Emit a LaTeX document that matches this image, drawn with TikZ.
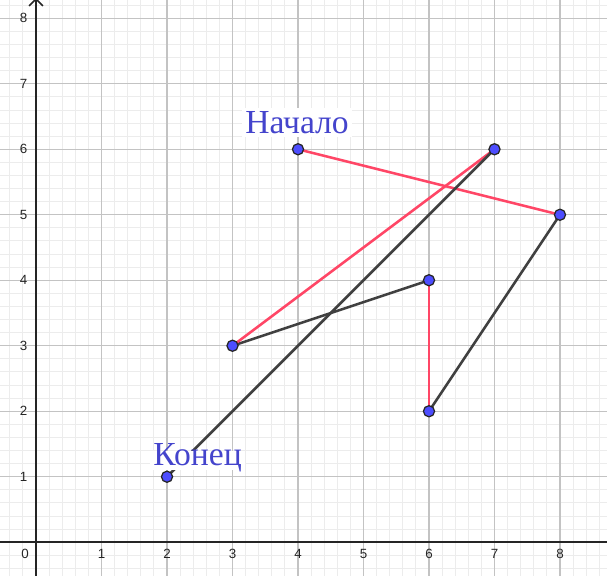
\documentclass[tikz,border=0pt]{standalone}
\usepackage{fontspec}
\setmainfont{Liberation Serif}
\newfontfamily\ticksfont{Liberation Sans}
\usetikzlibrary{arrows.meta}
\definecolor{minorgrid}{RGB}{236,236,236}
\definecolor{majorgrid}{RGB}{195,195,195}
\definecolor{axiscol}{RGB}{37,37,37}
\definecolor{redseg}{RGB}{255,70,102}
\definecolor{darkseg}{RGB}{64,64,64}
\definecolor{ptfill}{RGB}{77,77,255}
\definecolor{labcol}{RGB}{68,68,204}
\begin{document}
\begin{tikzpicture}[
  xtick/.style={font=\ticksfont\fontsize{5.8}{6}\selectfont, text=axiscol, inner sep=0pt, anchor=center},
  ytick/.style={font=\ticksfont\fontsize{5.8}{6}\selectfont, text=axiscol, inner sep=0pt, anchor=east},
  lab/.style={font=\fontsize{14.6}{16}\selectfont, text=labcol, fill=white, inner sep=1.3pt, anchor=base},
  pt/.style={circle, fill=ptfill, draw=black!85, line width=0.55pt, minimum size=0.17cm, inner sep=0pt},
  redline/.style={draw=redseg, line width=1.1pt},
  darkline/.style={draw=darkseg, line width=1.1pt}
]
\useasboundingbox (-0.55,-0.515) rectangle (8.718,8.279);
\clip (-0.55,-0.515) rectangle (8.718,8.279);
% grid
\draw[minorgrid, line width=0.4pt, step=0.2] (-0.6,-0.6) grid (8.8,8.4);
\draw[majorgrid, line width=0.45pt, step=1] (-1,-1) grid (9,9);
% axes
\draw[axiscol, line width=0.65pt] (-0.6,0) -- (8.8,0);
\draw[axiscol, line width=0.65pt, -{Straight Barb[length=3pt,width=6pt]}] (0,-0.6) -- (0,8.31);
% tick labels
\node[xtick] (x0) at (-0.168,-0.175) {0};
\foreach \i in {1,...,8} {
  \node[xtick] (xt\i) at (\i,-0.175) {\i};
  \node[ytick] (yt\i) at (-0.125,\i) {\i};
}
% points
\coordinate (a) at (4,6);
\coordinate (b) at (8,5);
\coordinate (c) at (6,2);
\coordinate (d) at (6,4);
\coordinate (e) at (3,3);
\coordinate (f) at (7,6);
\coordinate (g) at (2,1);
% segments
\draw[redline] (a) -- (b);
\draw[darkline] (b) -- (c);
\draw[redline] (c) -- (d);
\draw[darkline] (d) -- (e);
\draw[redline] (e) -- (f);
\draw[darkline] (f) -- (g);
% labels
\node[lab] (start) at (3.985,6.244) {Начало};
\node[lab, text height=5pt, text depth=0.5pt] (finish) at (2.466,1.169) {Конец};
% point markers
\foreach \p in {a,b,c,d,e,f,g} \node[pt] (p\p) at (\p) {};
\end{tikzpicture}
\end{document}
